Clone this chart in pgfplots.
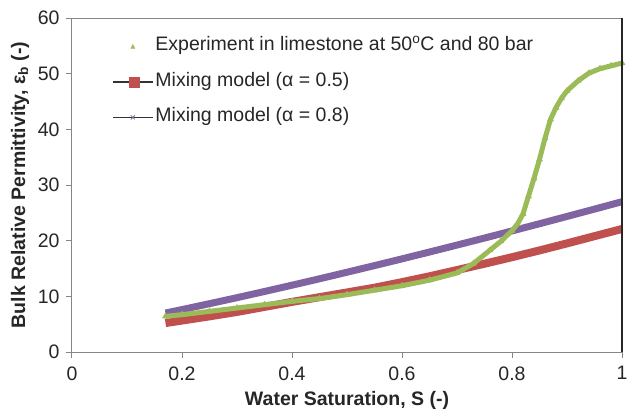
\documentclass[border=0pt]{standalone}
\usepackage{fontspec}
\setmainfont{Liberation Sans}
\usepackage{pgfplots}
\pgfplotsset{compat=1.18}
\definecolor{exgreen}{RGB}{155,187,89}
\definecolor{exred}{RGB}{192,80,77}
\definecolor{expurple}{RGB}{128,100,162}
\definecolor{axgray}{RGB}{134,134,134}
\newcommand{\cf}{\fontsize{19.5bp}{22bp}\selectfont}
\begin{document}
\begin{tikzpicture}
\begin{axis}[
 scale only axis, width=550bp, height=334bp,
 xmin=0, xmax=1, ymin=0, ymax=60,
 xtick={0,0.2,0.4,0.6,0.8,1}, ytick={0,10,20,30,40,50,60},
 xticklabels={0,0.2,0.4,0.6,0.8,1},
 tick align=outside, xtick pos=bottom, ytick pos=left,
 major tick length=6bp,
 axis line style={axgray, line width=1bp},
 every tick/.style={axgray, line width=1bp},
 tick label style={font=\cf, text=black!85},
 /pgf/number format/assume math mode=true,
 x tick label style={yshift=-5bp},
 y tick label style={xshift=-3bp},
 xlabel={Water Saturation, S (-)},
 ylabel={Bulk Relative Permittivity, ε\textsubscript{b} (-)},
 every axis x label/.style={at={(axis description cs:0.5,-0.1437)}, anchor=center, font=\cf\bfseries, text=black!85},
 every axis y label/.style={at={(axis description cs:-0.0945,0.5)}, anchor=center, rotate=90, font=\cf\bfseries, text=black!85},
 legend style={draw=none, fill=none, at={(axis description cs:0.0727,0.95)}, anchor=north west, font=\cf, text=black!85, row sep=12.5bp, column sep=0bp, inner sep=0pt, nodes={inner sep=2bp, text height=14bp, text depth=5bp}},
 legend cell align=left,
]
\addlegendimage{legend image code/.code={\path[draw=none, fill=none] (0bp,0bp) rectangle (40bp,0.1bp); \fill[exgreen] (18bp,-2bp) -- (22bp,-2bp) -- (20bp,2bp) -- cycle;}}
\addlegendentry{Experiment in limestone at 50\textsuperscript{o}C and 80 bar}
\addlegendimage{legend image code/.code={\draw[black!80, line width=1.3bp] (0bp,0bp) -- (40bp,0bp); \fill[exred] (16bp,-5bp) rectangle (26bp,5bp);}}
\addlegendentry{Mixing model (α = 0.5)}
\addlegendimage{legend image code/.code={\draw[black!80, line width=1.3bp] (0bp,0bp) -- (40bp,0bp); \draw[expurple, line width=0.8bp] (18bp,-2bp) -- (22bp,2bp) (18bp,2bp) -- (22bp,-2bp);}}
\addlegendentry{Mixing model (α = 0.8)}

\addplot[exred, line width=8bp, line join=round, forget plot] table {
0.17 5.20
0.20 5.65
0.25 6.40
0.30 7.20
0.35 8.10
0.40 9.00
0.45 9.85
0.50 10.70
0.55 11.55
0.60 12.55
0.65 13.60
0.70 14.72
0.75 15.86
0.80 17.03
0.85 18.25
0.90 19.51
0.95 20.81
1.00 22.10
};
\addplot[expurple, line width=7bp, line join=round, forget plot] table {
0.17 7.00
0.20 7.62
0.25 8.68
0.30 9.76
0.35 10.87
0.40 12.00
0.45 13.15
0.50 14.33
0.55 15.52
0.60 16.73
0.65 17.96
0.70 19.21
0.75 20.47
0.80 21.75
0.85 23.04
0.90 24.35
0.95 25.67
1.00 27.00
};
\addplot[exgreen, line width=5bp, line join=round, mark=triangle*, mark size=3.5bp, mark options={line width=0.5bp}, forget plot] table {
0.17 6.4
0.20 6.7
0.25 7.3
0.30 7.9
0.35 8.5
0.40 9.1
0.45 9.6
0.50 10.3
0.55 11.1
0.60 11.9
0.65 12.9
0.70 14.2
0.73 15.9
0.76 18.3
0.78 19.9
0.80 21.8
0.81 23.0
0.82 24.8
0.83 28.0
0.84 31.2
0.85 34.6
0.86 38.4
0.87 41.8
0.88 43.9
0.89 45.6
0.90 46.9
0.92 48.7
0.94 50.1
0.96 50.9
0.98 51.4
1.00 51.9
};
\end{axis}
\draw[black!85, line width=1.2bp] (550bp,0bp) -- (550bp,334bp);
\pgfresetboundingbox
\path (-72bp,-64bp) rectangle (556bp,352bp);
\end{tikzpicture}
\end{document}
